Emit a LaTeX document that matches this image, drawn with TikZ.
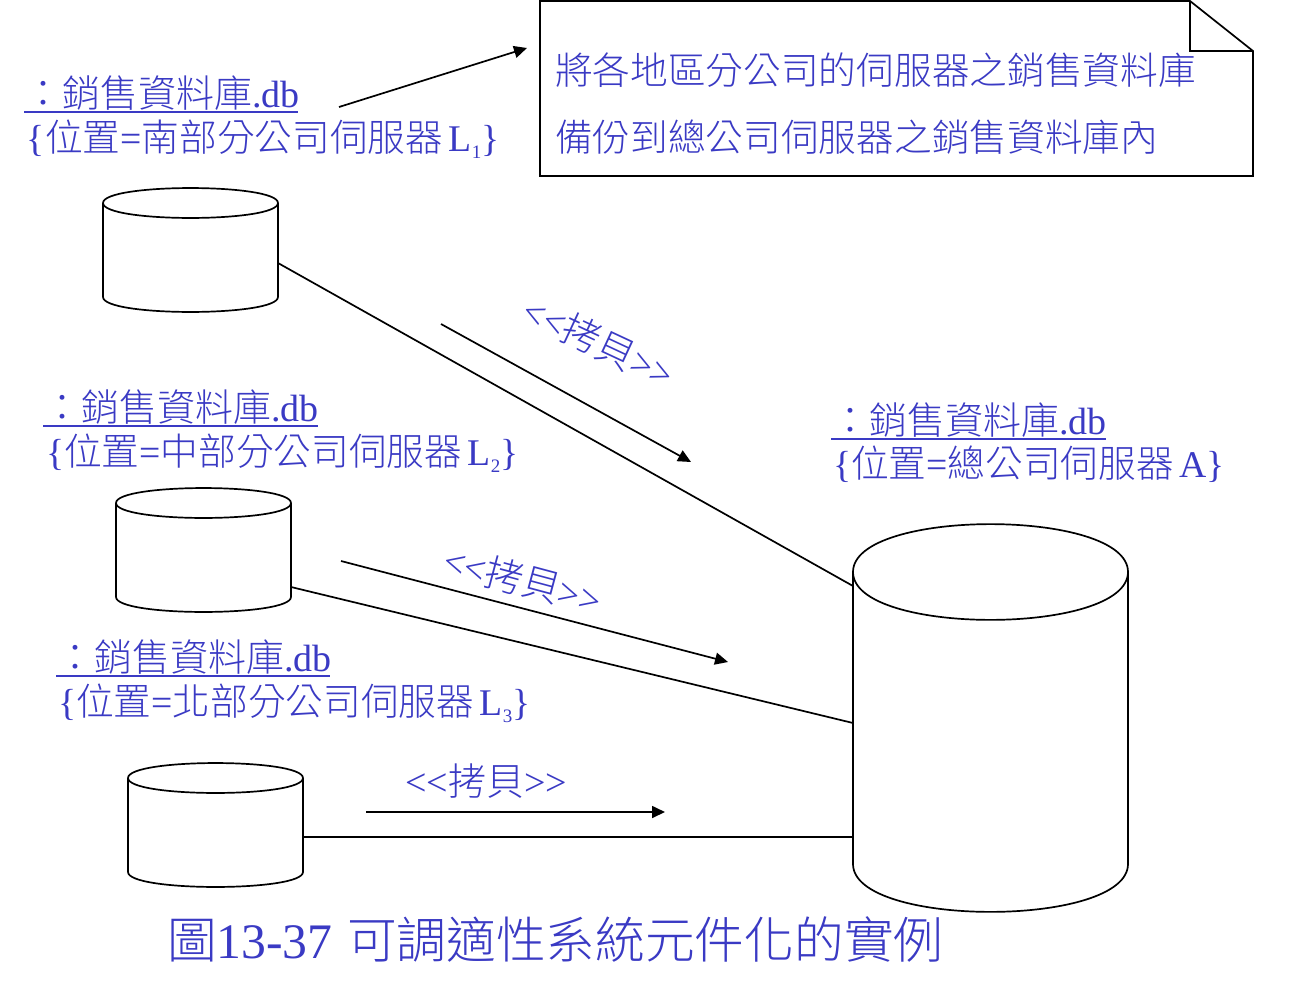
\documentclass[tikz,border=0pt]{standalone}
\usepackage{fontspec}
\setmainfont{Liberation Serif}[Ligatures=NoCommon]
\newfontfamily\cjk{Noto Sans CJK TC}[UprightFont=* Light]
\usetikzlibrary{arrows.meta,calc}
\definecolor{ink}{HTML}{3A3AC4}
\newcommand{\sbs}[1]{\raisebox{-0.2em}{\fontsize{19}{19}\selectfont #1}}
\newcommand{\guil}[1]{<\kern0pt<\cjk #1\rmfamily >\kern0pt>}
\newcommand{\drum}[2]{%
  \draw[wire,fill=white,line join=round]
    ($(#1.north west)+(0,#2)$) -- ($(#1.south west)+(0,-#2)$)
    .. controls ($(#1.south west)+(0,0.33*#2)$) and ($(#1.south east)+(0,0.33*#2)$) .. ($(#1.south east)+(0,-#2)$)
    -- ($(#1.north east)+(0,#2)$)
    .. controls ($(#1.north east)+(0,-0.33*#2)$) and ($(#1.north west)+(0,-0.33*#2)$) .. ($(#1.north west)+(0,#2)$)
    -- cycle;
  \draw[wire]
    ($(#1.north west)+(0,#2)$)
    .. controls ($(#1.north west)+(0,2.33*#2)$) and ($(#1.north east)+(0,2.33*#2)$) .. ($(#1.north east)+(0,#2)$);
}
\tikzset{
  txt/.style={text=ink,anchor=base west,inner sep=0pt,outer sep=0pt,font=\fontsize{38}{38}\selectfont},
  sub/.style={txt,font=\fontsize{37.7}{38}\selectfont},
  ttl/.style={txt,font=\fontsize{49.7}{49.7}\selectfont},
  drumbox/.style={rectangle,draw=none,inner sep=0pt,outer sep=0pt},
  smalldrum/.style={drumbox,minimum width=175pt,minimum height=124pt},
  bigdrum/.style={drumbox,minimum width=275pt,minimum height=388pt},
  wire/.style={draw=black,line width=1.7pt},
  flow/.style={wire,-{Triangle[length=13pt,width=12pt]}},
  ul/.style={draw=ink,line width=1.7pt}
}
\begin{document}
\begin{tikzpicture}[x=1pt,y=-1pt]
\useasboundingbox (0,0) rectangle (1290,996);
\fill[white] (0,0) rectangle (1290,996);

% note
\draw[wire,line join=miter] (540,1) -- (1190,1) -- (1253,51) -- (1253,176) -- (540,176) -- cycle;
\draw[wire] (1190,1) -- (1190,51) -- (1253,51);
\node[sub] (n1) at (555,84) {\cjk 將各地區分公司的伺服器之銷售資料庫};
\node[sub] (n2) at (555,151) {\cjk 備份到總公司伺服器之銷售資料庫內};
\coordinate (notein) at (527,48);

% labels
\node[txt] (a1) at (24,107) {\cjk ：銷售資料庫\rmfamily .db};
\node[sub] (b1) at (27,151) {\{\cjk 位置\rmfamily =\cjk 南部分公司伺服器\rmfamily\kern-4pt\ L\sbs{1}\}};
\draw[ul] (24,112) -- (298,112);
\node[txt] (a2) at (43,421) {\cjk ：銷售資料庫\rmfamily .db};
\node[sub] (b2) at (46,465) {\{\cjk 位置\rmfamily =\cjk 中部分公司伺服器\rmfamily\kern-4pt\ L\sbs{2}\}};
\draw[ul] (43,426) -- (318,426);
\node[txt] (a3) at (56,671) {\cjk ：銷售資料庫\rmfamily .db};
\node[sub] (b3) at (58,715) {\{\cjk 位置\rmfamily =\cjk 北部分公司伺服器\rmfamily\kern-4pt\ L\sbs{3}\}};
\draw[ul] (56,676) -- (330,676);
\node[txt] (a4) at (831,434) {\cjk ：銷售資料庫\rmfamily .db};
\node[sub] (b4) at (833,477) {\{\cjk 位置\rmfamily =\cjk 總公司伺服器\rmfamily\kern-4pt\ A\}};
\draw[ul] (831,439) -- (1106,439);

% cylinders
\node[smalldrum] (c1) at (190.5,250) {};
\node[smalldrum] (c2) at (203.5,550) {};
\node[smalldrum] (c3) at (215.5,825) {};
\node[bigdrum] (big) at (990.5,718) {};
\drum{c1}{15}
\drum{c2}{15}
\drum{c3}{15}
\drum{big}{48}

% connectors
\coordinate (c1out) at ($(c1.east)+(0,13)$);
\coordinate (c2out) at ($(c2.east)+(0,37)$);
\coordinate (c3out) at ($(c3.east)+(0,12)$);
\coordinate (bigin1) at (853,586);
\coordinate (bigin2) at (853,723);
\coordinate (bigin3) at (853,837);
\draw[wire] (c1out) -- (bigin1);
\draw[wire] (c2out) -- (bigin2);
\draw[wire] (c3out) -- (bigin3);

% flow arrows
\coordinate (f1s) at (339,107);
\draw[flow] (f1s) -- (notein);
\coordinate (f2s) at (441,324);
\coordinate (f2e) at (691,462);
\draw[flow] (f2s) -- (f2e);
\coordinate (f3s) at (341,561);
\coordinate (f3e) at (728,662);
\draw[flow] (f3s) -- (f3e);
\coordinate (f4s) at (366,812);
\coordinate (f4e) at (665,812);
\draw[flow] (f4s) -- (f4e);

\node[txt,anchor=center,rotate=-25] (l1) at (599,342) {\guil{拷貝}};
\node[txt,anchor=center,rotate=-15] (l2) at (523,580) {\guil{拷貝}};
\node[txt,anchor=center] (l3) at (486,781) {\guil{拷貝}};

\node[ttl] (title) at (167,958) {\cjk 圖\rmfamily 13-37 \kern2pt\cjk 可調適性系統元件化的實例};
\end{tikzpicture}
\end{document}
